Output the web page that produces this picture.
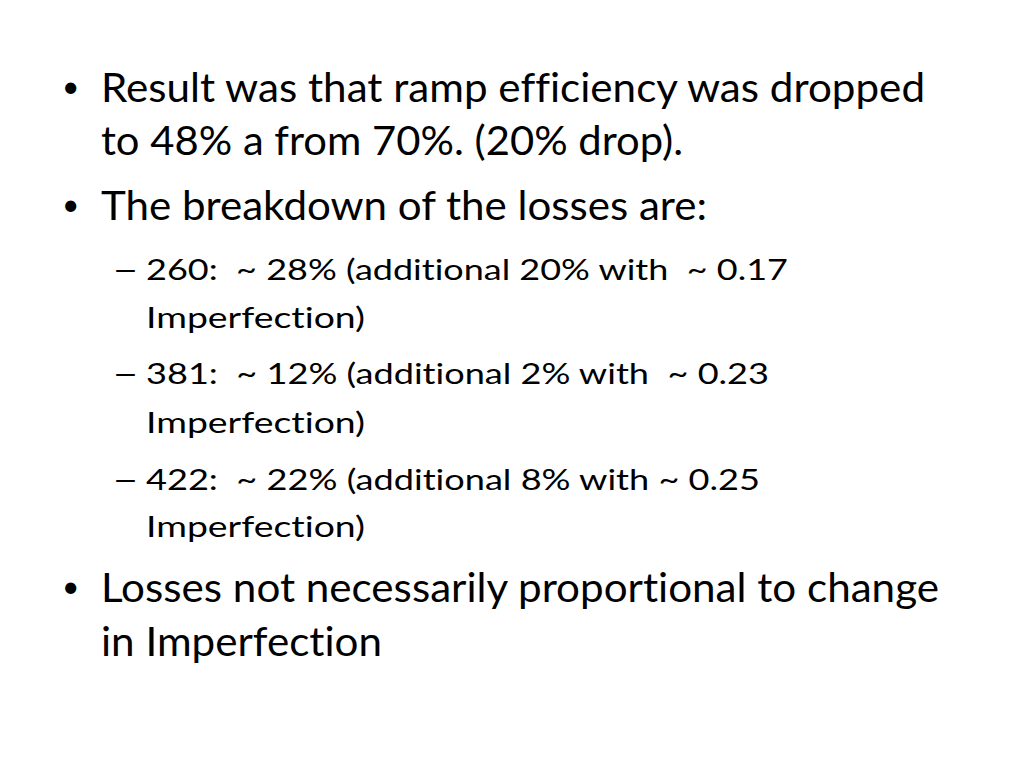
<!DOCTYPE html>
<html lang="en">
<head>
  <meta charset="UTF-8">
  <title>Ramp efficiency losses</title>
  <script src="https://cdn.jsdelivr.net/npm/chart.js"></script>
  <style>
    html, body {
      margin: 0;
      width: 1024px;
      height: 768px;
      background: #fff;
      overflow: hidden;
    }
    .line {
      position: absolute;
      white-space: pre;
      color: #000;
      font-family: Lato, "Open Sans", sans-serif;
      font-variant-ligatures: none;
      font-feature-settings: "liga" 0, "clig" 0;
      transform-origin: 0 0;
    }
    .lvl0 { font-size: 40.5px; }
    .lvl1 { font-size: 29.5px; }
    .bullet { font-size: 30px; }
    .probe { display: inline-block; width: 0; height: 0; }
  </style>
</head>
<body>
  <script>
    // slide text
    const headline = ['Result was that ramp efficiency was dropped', 'to 48% a from 70%. (20% drop).']
    const breakdownIntro = ['The breakdown of the losses are:']
    const lossCases = ['260', '381', '422']
    const lossPct = ['28%', '12%', '22%']
    const extraPct = ['20%', '2%', '8%']
    const imperfection = ['0.17', '0.23', '0.25']
    const closing = ['Losses not necessarily proportional to change', 'in Imperfection']

    // gap before the last "~" differs in the original
    const tildeGap = ['  ', '  ', ' ']

    // [level, marker, baseline y, right edge x]
    const layout = [
      [0, '•', 102, 925], [0, null, 155, 683], [0, '•', 220, 707],
      [1, '–', 280, 788], [1, null, 328, 365],
      [1, '–', 384, 769], [1, null, 433, 365],
      [1, '–', 490, 760], [1, null, 537, 365],
      [0, '•', 602, 939], [0, null, 656, 382]
    ]
    const textLeft = [101, 146]
    const markerLeft = [62, 112]
    const markerRight = [null, 139]
    const markerLift = [5, 0]

    const texts = [...headline, ...breakdownIntro]
    lossCases.forEach((c, i) => {
      texts.push(c + ':  ~ ' + lossPct[i] + ' (additional ' + extraPct[i] + ' with' + tildeGap[i] + '~ ' + imperfection[i])
      texts.push('Imperfection)')
    })
    texts.push(...closing)

    function addLine(str, cls, left, baseline, right) {
      const el = document.createElement('div')
      el.className = 'line ' + cls
      el.innerHTML = '<span class="t"></span><span class="probe"></span>'
      el.querySelector('.t').textContent = str
      el.style.left = left + 'px'
      el.style.top = '0px'
      document.body.appendChild(el)
      el.style.top = (baseline - el.querySelector('.probe').offsetTop) + 'px'
      if (right) {
        const w = el.querySelector('.t').getBoundingClientRect().width
        el.style.transform = 'scaleX(' + ((right - left) / w) + ')'
      }
    }

    document.fonts.ready.then(() => {
      layout.forEach(([lvl, marker, baseline, right], i) => {
        if (marker) {
          const cls = lvl === 0 ? 'bullet' : 'lvl1'
          addLine(marker, cls, markerLeft[lvl], baseline - markerLift[lvl], markerRight[lvl])
        }
        addLine(texts[i], 'lvl' + lvl, textLeft[lvl], baseline, right)
      })
    })
  </script>
</body>
</html>
